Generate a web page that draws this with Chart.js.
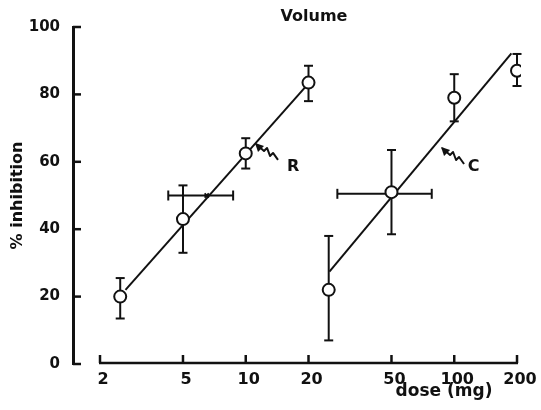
<!DOCTYPE html>
<html><head><meta charset="utf-8">
<script src="https://cdn.jsdelivr.net/npm/chart.js@4"></script>
<style>html,body{margin:0;padding:0;background:#fff;} #wrap{width:541px;height:410px;}</style>
</head><body><div id="wrap"><canvas id="c" width="541" height="410"></canvas></div>
<script>
const xTicks = [2, 5, 10, 20, 50, 100, 200];
const yTicks = [0, 20, 40, 60, 80, 100];
const rDose = [2.5, 5, 10, 20];
const rInhib = [20, 43, 62.5, 83.5];
const rLow = [13.5, 33, 58, 78];
const rHigh = [25.5, 53, 67, 88.5];
const cDose = [25, 50, 100, 200];
const cInhib = [22, 51, 79, 87];
const cLow = [7, 38.5, 72, 82.5];
const cHigh = [38, 63.5, 86, 92];
const edDose = [6.5, 52];
const edInhib = [50, 50.5];
const edLow = [4.25, 27.5];
const edHigh = [8.7, 78];
const rLineDose = [2.65, 19.2];
const rLineInhib = [22, 82];
const cLineDose = [25.2, 188];
const cLineInhib = [27.4, 92.2];
const curveLabels = ['R', 'C'];
const labelDose = [16.9, 124];
const labelInhib = [58.5, 58.5];
const arrowDose = [11.2, 87.4];
const arrowInhib = [65.3, 64.1];

const FONT = '"DejaVu Sans", sans-serif';
const INK = '#111';
const pts = (xs, ys) => xs.map((v, i) => ({x: v, y: ys[i]}));

const drawPlugin = {
  id: 'drawPlugin',
  beforeDatasetsDraw(chart) {
    const {ctx, scales: {x, y}} = chart;
    ctx.save();
    ctx.strokeStyle = INK; ctx.lineWidth = 2;
    const seg = (a, b, c, d) => { ctx.beginPath(); ctx.moveTo(a, b); ctx.lineTo(c, d); ctx.stroke(); };
    const vbars = (ds, lo, hi) => ds.forEach((d, i) => {
      const px = x.getPixelForValue(d), p1 = y.getPixelForValue(lo[i]), p2 = y.getPixelForValue(hi[i]);
      seg(px, p1, px, p2); seg(px - 4.5, p1, px + 4.5, p1); seg(px - 4.5, p2, px + 4.5, p2);
    });
    vbars(rDose, rLow, rHigh);
    vbars(cDose, cLow, cHigh);
    edDose.forEach((d, i) => {
      const py = y.getPixelForValue(edInhib[i]);
      const p1 = x.getPixelForValue(edLow[i]), p2 = x.getPixelForValue(edHigh[i]);
      seg(p1, py, p2, py); seg(p1, py - 5, p1, py + 5); seg(p2, py - 5, p2, py + 5);
    });
    ctx.restore();
  },
  afterDraw(chart) {
    const {ctx, chartArea: ca, scales: {x, y}} = chart;
    ctx.save();
    ctx.strokeStyle = INK; ctx.fillStyle = INK;
    const seg = (a, b, c, d) => { ctx.beginPath(); ctx.moveTo(a, b); ctx.lineTo(c, d); ctx.stroke(); };
    ctx.lineWidth = 2.5;
    const by = ca.bottom - 1;
    seg(x.getPixelForValue(xTicks[0]) - 1, by, x.getPixelForValue(xTicks[xTicks.length - 1]) + 1, by);
    xTicks.forEach(v => { const px = x.getPixelForValue(v); seg(px, by, px, by - 8); });
    yTicks.forEach(v => { const py = y.getPixelForValue(v); seg(ca.left, py, ca.left + 8, py); });

    ctx.textAlign = 'center'; ctx.textBaseline = 'middle';
    ctx.font = 'bold 16px ' + FONT;
    ctx.fillText('Volume', 314, 17);
    ctx.font = 'bold 17px ' + FONT;
    ctx.textBaseline = 'alphabetic';
    ctx.fillText('dose (mg)', 444, 396);

    ctx.lineWidth = 2; ctx.lineJoin = 'round';
    const path = [[0, 0], [8, 7], [11, 4], [14, 12], [17, 9], [22, 16]];
    curveLabels.forEach((t, i) => {
      const tx = x.getPixelForValue(arrowDose[i]), ty = y.getPixelForValue(arrowInhib[i]);
      ctx.beginPath();
      path.forEach(([dx, dy], k) => k ? ctx.lineTo(tx + dx, ty + dy) : ctx.moveTo(tx + dx, ty + dy));
      ctx.stroke();
      ctx.beginPath();
      ctx.moveTo(tx - 1, ty - 1); ctx.lineTo(tx + 8, ty + 2); ctx.lineTo(tx + 2, ty + 8); ctx.closePath();
      ctx.fill();
      ctx.font = 'bold 16px ' + FONT;
      ctx.textBaseline = 'middle';
      ctx.fillText(t, x.getPixelForValue(labelDose[i]), y.getPixelForValue(labelInhib[i]));
    });
    ctx.restore();
  }
};

const pointStyle = {showLine: false, pointRadius: 6, pointBackgroundColor: '#fff', pointBorderColor: INK, pointBorderWidth: 2, order: 0};
const lineStyle = {showLine: true, pointRadius: 0, borderColor: INK, borderWidth: 2, order: 2};

new Chart(document.getElementById('c'), {
  type: 'scatter',
  data: {
    datasets: [
      Object.assign({label: 'R', data: pts(rDose, rInhib)}, pointStyle),
      Object.assign({label: 'C', data: pts(cDose, cInhib)}, pointStyle),
      Object.assign({label: 'R fit', data: pts(rLineDose, rLineInhib)}, lineStyle),
      Object.assign({label: 'C fit', data: pts(cLineDose, cLineInhib)}, lineStyle),
      {label: 'ED50', data: pts(edDose, edInhib), showLine: false, pointStyle: 'crossRot', pointRadius: 3, pointBorderColor: INK, pointBorderWidth: 2, order: 1}
    ]
  },
  options: {
    responsive: false,
    animation: false,
    layout: {padding: {top: 27, right: 20, bottom: 0, left: 0}},
    plugins: {legend: {display: false}, tooltip: {enabled: false}, title: {display: false}},
    scales: {
      x: {
        type: 'logarithmic', position: 'bottom', min: 1.4843, max: 209,
        grid: {display: false, drawTicks: false}, border: {display: false},
        afterBuildTicks: s => { s.ticks = xTicks.map(v => ({value: v})); },
        afterFit: s => { s.height = 46; },
        ticks: {callback: v => String(v), font: {family: FONT, size: 16, weight: 'bold'}, color: INK, padding: 6, maxRotation: 0, autoSkip: false, labelOffset: 3}
      },
      y: {
        type: 'linear', min: 0, max: 100,
        grid: {display: false, drawTicks: false}, border: {display: true, color: INK, width: 3},
        afterBuildTicks: s => { s.ticks = yTicks.map(v => ({value: v})); },
        afterFit: s => { s.width = 73; },
        ticks: {font: {family: FONT, size: 15, weight: 'bold'}, color: INK, padding: 13},
        title: {display: true, text: '% inhibition', font: {family: FONT, size: 16, weight: 'bold'}, color: INK, padding: {top: 8, bottom: 0}}
      }
    }
  },
  plugins: [drawPlugin]
});
</script>
</body></html>
